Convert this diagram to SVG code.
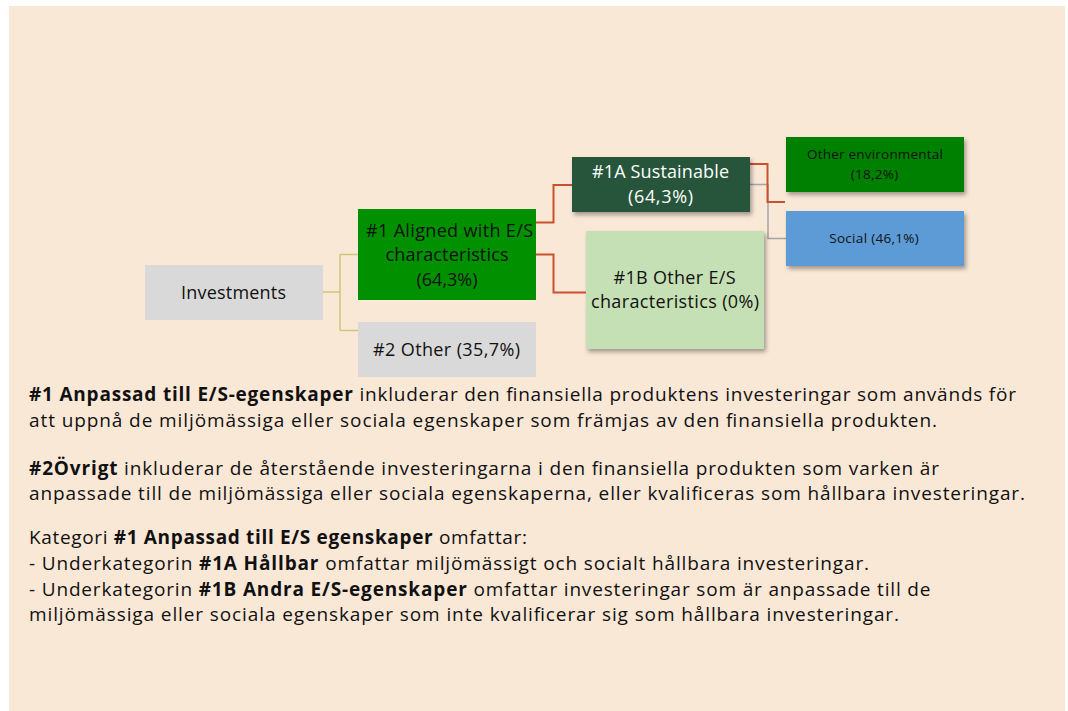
<svg xmlns="http://www.w3.org/2000/svg" width="1068" height="711" viewBox="0 0 1068 711">
<style>
.t{font-family:"Open Sans","Noto Sans","Liberation Sans",sans-serif;fill:#111}
.n{font-size:18px;text-anchor:middle}
.s{font-size:13.5px;text-anchor:middle}
.p{font-size:19px}
.b{font-weight:bold}
.w{fill:#fff}
.cr{fill:none;stroke:#c9512c;stroke-width:2}
.cy{fill:none;stroke:#cdc67a;stroke-width:1.5}
.cg{fill:none;stroke:#a5a5a5;stroke-width:1.5}
</style>
<defs>
<filter id="sh" x="-10%" y="-10%" width="130%" height="140%">
<feDropShadow dx="2" dy="3" stdDeviation="2" flood-color="#000" flood-opacity="0.35"/>
</filter>
</defs>
<rect x="9" y="6" width="1056" height="705" fill="#fae8d7"/>
<g id="connectors">
<path class="cy" d="M323 292 H340 M340 254.5 V330.5 M340 254.5 H358 M340 330.5 H358"/>
<path class="cr" d="M536 222.5 H553.5 V185 H572"/>
<path class="cr" d="M536 254.5 H553.5 V292.5 H586"/>
<path class="cg" d="M750 184.5 H768 V238.5 H786"/>
<path class="cr" d="M750 164 H767.5 V202 H785"/>
</g>
<g id="investments">
<rect x="145" y="265" width="178" height="55" fill="#d9d9d9"/>
<text class="t n" x="233.5" y="299" textLength="105" lengthAdjust="spacing">Investments</text>
</g>
<g id="aligned">
<rect x="358" y="209" width="178" height="91" fill="#009000"/>
<text class="t n" x="449.5" y="237" textLength="167" lengthAdjust="spacing">#1 Aligned with E/S</text>
<text class="t n" x="447" y="261" textLength="123" lengthAdjust="spacing">characteristics</text>
<text class="t n" x="447" y="285.5">(64,3%)</text>
</g>
<g id="other">
<rect x="358" y="322" width="178" height="55" fill="#d9d9d9"/>
<text class="t n" x="446.5" y="355.5" textLength="147" lengthAdjust="spacing">#2 Other (35,7%)</text>
</g>
<g id="sustainable">
<rect x="572" y="157" width="178" height="55" fill="#26543a" filter="url(#sh)"/>
<text class="t n w" x="660.5" y="178" textLength="137" lengthAdjust="spacing">#1A Sustainable</text>
<text class="t n w" x="660.5" y="202.5" textLength="65" lengthAdjust="spacing">(64,3%)</text>
</g>
<g id="other-es">
<rect x="586" y="231" width="178" height="118" fill="#c5e0b4" filter="url(#sh)"/>
<text class="t n" x="674.5" y="284" textLength="122" lengthAdjust="spacing">#1B Other E/S</text>
<text class="t n" x="675" y="308" textLength="168" lengthAdjust="spacing">characteristics (0%)</text>
</g>
<g id="other-env">
<rect x="786" y="137" width="178" height="55" fill="#008000" filter="url(#sh)"/>
<text class="t s" x="875" y="159" textLength="136" lengthAdjust="spacing">Other environmental</text>
<text class="t s" x="874.5" y="179" textLength="47.5" lengthAdjust="spacing">(18,2%)</text>
</g>
<g id="social">
<rect x="786" y="211" width="178" height="55" fill="#5b9bd5" filter="url(#sh)"/>
<text class="t s" x="874" y="243" textLength="89.5" lengthAdjust="spacing">Social (46,1%)</text>
</g>
<g id="text">
<text class="t p" x="29" y="401" textLength="987" lengthAdjust="spacing"><tspan class="b">#1 Anpassad till E/S-egenskaper</tspan> inkluderar den finansiella produktens investeringar som används för</text>
<text class="t p" x="29" y="426.5" textLength="908" lengthAdjust="spacing">att uppnå de miljömässiga eller sociala egenskaper som främjas av den finansiella produkten.</text>
<text class="t p" x="29" y="474.5" textLength="910" lengthAdjust="spacing"><tspan class="b">#2Övrigt</tspan> inkluderar de återstående investeringarna i den finansiella produkten som varken är</text>
<text class="t p" x="29" y="500" textLength="996" lengthAdjust="spacing">anpassade till de miljömässiga eller sociala egenskaperna, eller kvalificeras som hållbara investeringar.</text>
<text class="t p" x="29" y="543.5" textLength="498" lengthAdjust="spacing">Kategori <tspan class="b">#1 Anpassad till E/S egenskaper</tspan> omfattar:</text>
<text class="t p" x="29" y="569.5" textLength="840" lengthAdjust="spacing">- Underkategorin <tspan class="b">#1A Hållbar</tspan> omfattar miljömässigt och socialt hållbara investeringar.</text>
<text class="t p" x="29" y="595.5" textLength="901.5" lengthAdjust="spacing">- Underkategorin <tspan class="b">#1B Andra E/S-egenskaper</tspan> omfattar investeringar som är anpassade till de</text>
<text class="t p" x="29" y="621" textLength="870" lengthAdjust="spacing">miljömässiga eller sociala egenskaper som inte kvalificerar sig som hållbara investeringar.</text>
</g>
</svg>
